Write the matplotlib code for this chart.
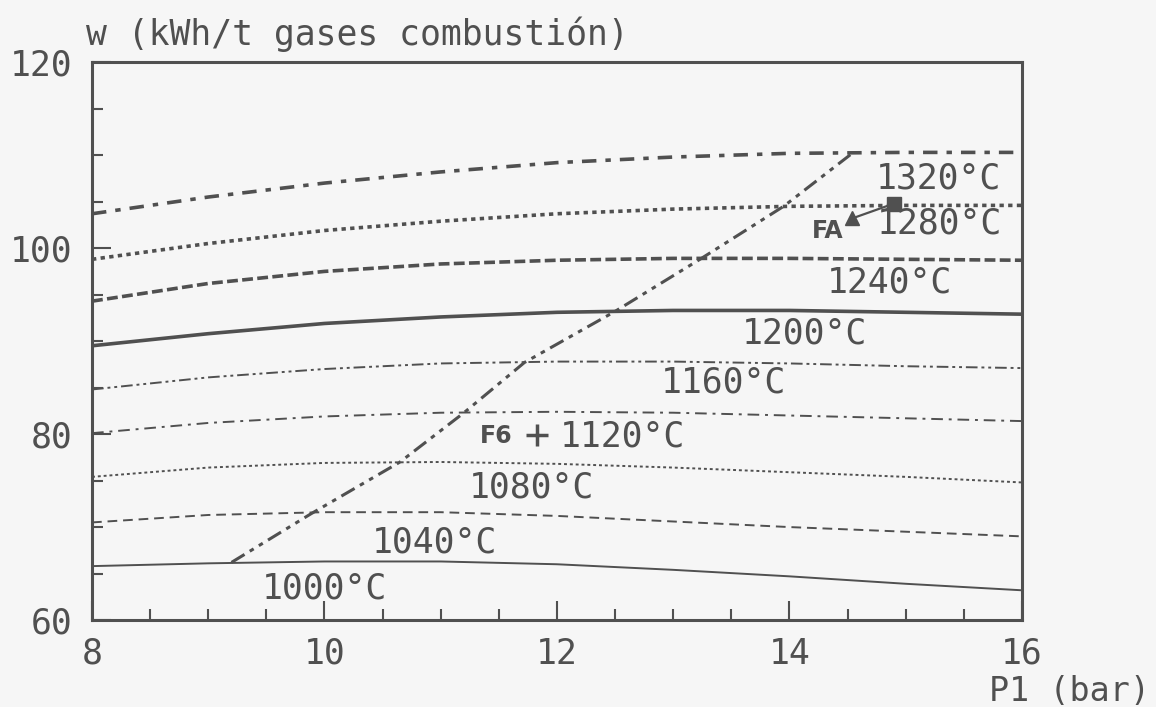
import matplotlib.pyplot as plt
from matplotlib.ticker import MultipleLocator

plt.rcParams['font.family'] = ['DejaVu Sans Mono', 'DejaVu Sans']

# P1 (bar) sample points for the isotherms
p1 = [8, 9, 10, 11, 12, 13, 14, 15, 16]

# w (kWh/t gases combustion)
w_1320 = [103.7, 105.5, 107.0, 108.2, 109.2, 109.8, 110.2, 110.3, 110.3]
w_1280 = [98.8, 100.5, 101.9, 102.9, 103.7, 104.2, 104.5, 104.6, 104.6]
w_1240 = [94.3, 96.2, 97.5, 98.3, 98.7, 98.9, 98.9, 98.8, 98.7]
w_1200 = [89.5, 90.8, 91.9, 92.6, 93.1, 93.3, 93.3, 93.1, 92.9]
w_1160 = [84.8, 86.1, 87.0, 87.6, 87.8, 87.8, 87.6, 87.3, 87.1]
w_1120 = [80.1, 81.2, 81.9, 82.3, 82.4, 82.3, 82.0, 81.7, 81.4]
w_1080 = [75.4, 76.4, 76.9, 77.0, 76.8, 76.4, 75.9, 75.4, 74.8]
w_1040 = [70.5, 71.3, 71.6, 71.6, 71.2, 70.6, 70.0, 69.5, 69.0]
w_1000 = [65.8, 66.1, 66.3, 66.3, 66.0, 65.4, 64.7, 63.9, 63.2]

# optimum-pressure envelope
env_p1 = [9.2, 9.88, 10.65, 11.2, 11.72, 12.5, 13.23, 13.95, 14.55]
env_w = [66.2, 71.4, 77.0, 82.3, 87.7, 93.2, 98.8, 104.5, 110.3]

# isotherm labels (text, P1, w)
labels = ['1320°C', '1280°C', '1240°C', '1200°C', '1160°C',
          '1120°C', '1080°C', '1040°C', '1000°C']
label_p1 = [15.28, 15.29, 14.86, 14.13, 13.43, 12.56, 11.78, 10.95, 10.0]
label_w = [107.5, 102.7, 96.3, 90.8, 85.5, 79.7, 74.3, 68.3, 63.4]

# operating points FA and F6
fa_p1 = [14.54, 14.9]
fa_w = [103.2, 104.8]
f6_p1 = 11.83
f6_w = 79.9

ink = '#505050'
bg = '#f6f6f6'

fig = plt.figure(figsize=(11.56, 7.07), dpi=100, facecolor=bg)
ax = fig.add_axes([0.0796, 0.123, 0.8044, 0.789], facecolor=bg)

ax.plot(p1, w_1320, color=ink, lw=2.6, dashes=(4, 2.5, 1.5, 2.5))
ax.plot(p1, w_1280, color=ink, lw=2.6, dashes=(1.2, 1.2))
ax.plot(p1, w_1240, color=ink, lw=2.6, dashes=(3, 1.2))
ax.plot(p1, w_1200, color=ink, lw=2.6)
ax.plot(p1, w_1160, color=ink, lw=1.4, dashes=(6, 2, 1.5, 2, 1.5, 2))
ax.plot(p1, w_1120, color=ink, lw=1.4, dashes=(6, 3, 1.5, 3))
ax.plot(p1, w_1080, color=ink, lw=1.4, dashes=(1.5, 1.5))
ax.plot(p1, w_1040, color=ink, lw=1.4, dashes=(5, 3))
ax.plot(p1, w_1000, color=ink, lw=1.4)
ax.plot(env_p1, env_w, color=ink, lw=2.2, dashes=(5, 2, 1.5, 2, 1.5, 2))

for txt, x, y in zip(labels, label_p1, label_w):
    ax.text(x, y, txt, fontsize=25, color=ink, ha='center', va='center')

ax.plot(fa_p1, fa_w, color=ink, lw=1.6)
ax.plot(fa_p1[0], fa_w[0], marker='^', ms=10, color=ink, ls='none')
ax.plot(fa_p1[1], fa_w[1], marker='s', ms=10, color=ink, ls='none')
ax.text(14.33, 101.8, 'FA', fontsize=17, fontweight='bold', color=ink,
        family='DejaVu Sans', ha='center', va='center')
ax.plot(f6_p1, f6_w, marker='+', ms=16, mew=2.5, color=ink, ls='none')
ax.text(11.48, 79.8, 'F6', fontsize=17, fontweight='bold', color=ink,
        family='DejaVu Sans', ha='center', va='center')

ax.set_xlim(8, 16)
ax.set_ylim(60, 120)
ax.set_xticks([8, 10, 12, 14, 16])
ax.set_yticks([60, 80, 100, 120])
ax.xaxis.set_minor_locator(MultipleLocator(0.5))
ax.yaxis.set_minor_locator(MultipleLocator(5))
ax.tick_params(which='both', direction='in', color=ink, width=1.5,
               labelsize=25, labelcolor=ink, top=False, right=False)
ax.tick_params(which='major', length=14)
ax.tick_params(which='minor', length=8)
ax.tick_params(axis='x', pad=12)
ax.tick_params(axis='y', pad=14)
for s in ax.spines.values():
    s.set_color(ink)
    s.set_linewidth(2.2)

fig.text(0.074, 0.952, 'w (kWh/t gases combustión)', fontsize=25, color=ink,
         ha='left', va='center')
fig.text(0.995, 0.022, 'P1 (bar)', fontsize=24, color=ink,
         ha='right', va='center')

fig.savefig('out.png', dpi=100, facecolor=bg)
